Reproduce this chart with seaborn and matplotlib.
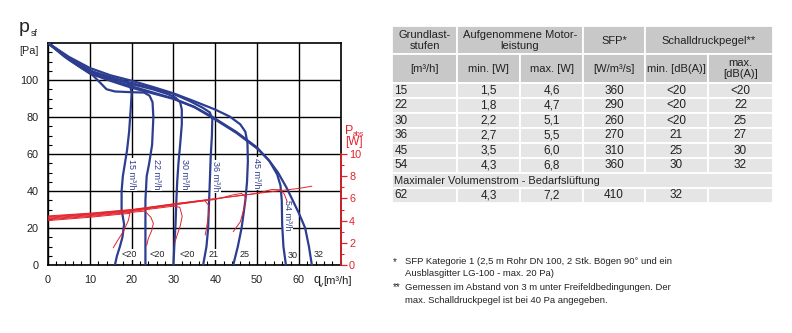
import numpy as np
import pandas as pd
import matplotlib
matplotlib.use('Agg')
import matplotlib.pyplot as plt
from matplotlib import font_manager
from matplotlib.patches import Rectangle
from matplotlib.ticker import MultipleLocator, FixedLocator
import seaborn as sns

# ---------------- data: fan curves (q [m3/h], p_sf [Pa]) ----------------
SETTINGS = ['15', '22', '30', '36', '45', '54', '62']

Q15 = [0, 4, 8, 12, 16, 18.5, 19.6, 20, 19.8, 19.4, 18.9, 18.4, 17.9, 17.6, 17.6, 18.2, 17.8, 17.2, 16.5, 16]
P15 = [120, 113, 107.5, 103, 100.5, 99.3, 97.5, 93, 85, 72, 62, 55, 48, 40, 30, 22, 15, 10, 5, 0]

Q22 = [0, 4, 8, 10.5, 12.5, 14, 16, 20, 23, 24.3, 25, 25.2, 24.9, 24.2, 23.6, 23.3, 23.3, 23.3]
P22 = [120, 112.5, 106.5, 103, 98.5, 95, 93.8, 93.4, 93.2, 91.5, 88, 80, 65, 55, 48, 35, 18, 0]

Q30 = [0, 5, 10, 15, 20, 25, 28.5, 30.5, 31.6, 32, 32, 31.6, 31.2, 30.9, 30.7, 30.5, 30.2, 30]
P30 = [120, 111.5, 105, 101, 97.8, 95, 92.5, 90.5, 88, 84, 76, 65, 55, 45, 35, 22, 10, 0]

Q36 = [0, 5, 10, 15, 20, 25, 30, 34, 37, 38.7, 39.3, 39.2, 38.9, 38.7, 38.5, 38.3, 37.9, 37.1]
P36 = [120, 112, 105, 101.5, 98.3, 95.5, 92.5, 88.5, 85, 82.5, 79, 70, 58, 45, 33, 20, 10, 0]

Q45 = [0, 5, 10, 15, 20, 25, 30, 35, 40, 43.5, 46, 47.2, 47.7, 47.8, 47.6, 47.2, 46.3, 45.4, 44.3]
P45 = [120, 112.5, 106.5, 102.5, 99.6, 96.3, 92.8, 88.5, 84, 80.2, 76, 72, 66, 56, 45, 35, 20, 10, 0]

Q54 = [0, 5, 10, 15, 20, 25, 30, 35, 39, 45, 50, 53, 54.8, 55.6, 55.9, 56, 56.3, 56.9]
P54 = [120, 111.5, 104, 100, 96.6, 93.3, 90, 85.5, 80.5, 72, 63.5, 56, 49, 43, 35, 22, 10, 0]

Q62 = [0, 5, 10, 15, 20, 25, 30, 35, 39, 45, 50, 52.7, 55, 57, 58.3, 60, 61.5, 62.4, 63.1]
P62 = [120, 111, 103.5, 99.5, 95.8, 92.8, 89.8, 85.3, 80, 71.5, 63, 57, 50, 42, 36, 28, 20, 10, 0]

# ---------------- data: absorbed power curves (q [m3/h], P_abs [W]) ----------------
RQ15 = [0, 10, 18, 19.6, 19.2, 18, 16.8, 15.6]
RW15 = [4.0, 4.3, 4.6, 4.65, 4.0, 3.0, 2.3, 1.55]
RQ22 = [0, 10, 20, 23.2, 24.6, 25.2, 24.8, 24, 23.6]
RW22 = [4.08, 4.38, 4.75, 4.85, 4.3, 3.75, 3.1, 2.4, 1.75]
RQ30 = [0, 10, 20, 30, 31.5, 32.1, 31.6, 30.8, 30.4]
RW30 = [4.15, 4.45, 4.82, 5.3, 5.2, 4.4, 3.5, 2.6, 2.1]
RQ36 = [0, 10, 20, 30, 37.5, 38.6, 38.3, 37.9, 37.6]
RW36 = [4.22, 4.52, 4.88, 5.4, 5.8, 5.3, 4.3, 3.3, 2.7]
RQ45 = [0, 10, 20, 30, 40, 44, 46.3, 47.3, 47.1, 46, 44.3]
RW45 = [4.3, 4.57, 4.92, 5.45, 5.9, 6.3, 6.45, 6.1, 5.4, 3.9, 3.0]
RQ54 = [0, 10, 20, 30, 40, 50, 53.5, 55.5, 56.5, 57.2]
RW54 = [4.36, 4.62, 4.96, 5.5, 5.97, 6.45, 6.8, 6.78, 6.4, 5.7]
RQ62 = [0, 10, 20, 30, 40, 50, 60, 63.1]
RW62 = [4.42, 4.67, 5.0, 5.5, 5.97, 6.45, 6.9, 7.1]

# curve labels and sound levels
CURVE_LABELS = ['15 m³/h', '22 m³/h', '30 m³/h', '36 m³/h', '45 m³/h', '54 m³/h']
CURVE_LABEL_Q = [19.9, 26.0, 32.6, 40.1, 49.9, 57.3]
CURVE_LABEL_P = [49, 49, 49, 47.7, 49.5, 27]
SOUND_LABELS = ['<20', '<20', '<20', '21', '25', '30', '32']
SOUND_Q = [19.3, 26.0, 33.2, 39.5, 47.0, 58.4, 64.8]
SOUND_P = [5.5, 5.5, 5.5, 5.5, 5.5, 5.0, 5.5]

XTICKS = [0, 10, 20, 30, 40, 50, 60]
YTICKS = [0, 20, 40, 60, 80, 100]
WTICKS = [0, 2, 4, 6, 8, 10]

# ---------------- data: table ----------------
COL_STUFEN = ['15', '22', '30', '36', '45', '54']
COL_MIN_W = ['1,5', '1,8', '2,2', '2,7', '3,5', '4,3']
COL_MAX_W = ['4,6', '4,7', '5,1', '5,5', '6,0', '6,8']
COL_SFP = ['360', '290', '260', '270', '310', '360']
COL_DB_MIN = ['<20', '<20', '<20', '21', '25', '30']
COL_DB_MAX = ['<20', '22', '25', '27', '30', '32']
MAX_ROW = ['62', '4,3', '7,2', '410', '32', '']
MAX_TITLE = 'Maximaler Volumenstrom - Bedarfslüftung'
HEAD1 = ['Grundlast-\nstufen', 'Aufgenommene Motor-\nleistung', 'SFP*', 'Schalldruckpegel**']
HEAD2 = ['[m³/h]', 'min. [W]', 'max. [W]', '[W/m³/s]', 'min. [dB(A)]', 'max.\n[dB(A)]']
FOOT = [('*', 'SFP Kategorie 1 (2,5 m Rohr DN 100, 2 Stk. Bögen 90° und ein'),
        ('', 'Ausblasgitter LG-100 - max. 20 Pa)'),
        ('**', 'Gemessen im Abstand von 3 m unter Freifeldbedingungen. Der'),
        ('', 'max. Schalldruckpegel ist bei 40 Pa angegeben.')]

# ---------------- style ----------------
sns.set_style('white')
names = {f.name for f in font_manager.fontManager.ttflist}
NARROW = 'Liberation Sans Narrow' if 'Liberation Sans Narrow' in names else 'Liberation Sans'
SANS = 'Liberation Sans' if 'Liberation Sans' in names else 'DejaVu Sans'
plt.rcParams['font.family'] = [SANS, 'DejaVu Sans']
plt.rcParams['mathtext.default'] = 'regular'

BLUE = '#2d3d90'
RED = '#e3232c'
TXT = '#222222'

W, H = 792, 333
fig = plt.figure(figsize=(W / 100, H / 100), dpi=100)


def px_rect(l, t, r, b):
    return [l / W, 1 - b / H, (r - l) / W, (b - t) / H]


ax = fig.add_axes(px_rect(48, 43, 340.7, 265))

fan_q = [Q15, Q22, Q30, Q36, Q45, Q54, Q62]
fan_p = [P15, P22, P30, P36, P45, P54, P62]
rows = []
for s, qs, ps in zip(SETTINGS, fan_q, fan_p):
    for i, (q, p) in enumerate(zip(qs, ps)):
        rows.append((s, i, q, p))
fan_df = pd.DataFrame(rows, columns=['setting', 'idx', 'q', 'p'])

sns.lineplot(data=fan_df, x='q', y='p', units='setting', estimator=None, sort=False,
             color=BLUE, lw=1.6, ax=ax, legend=False, zorder=3)

ax.set_xlim(0, 70)
ax.set_ylim(0, 120)
ax.set_xticks(XTICKS)
ax.set_xticklabels([str(v) for v in XTICKS])
ax.set_yticks(YTICKS)
ax.set_yticklabels([str(v) for v in YTICKS])
ax.xaxis.set_minor_locator(MultipleLocator(2))
ax.yaxis.set_minor_locator(MultipleLocator(5))
ax.tick_params(which='major', length=0, labelsize=7.8, colors=TXT)
ax.tick_params(axis='y', which='major', pad=7)
ax.tick_params(axis='x', which='major', pad=7)
ax.tick_params(which='minor', direction='in', length=3, width=0.8, color='black',
               left=True, bottom=True)
ax.grid(True, which='major', color='black', lw=1.0)
ax.set_axisbelow(True)
for s in ax.spines.values():
    s.set_visible(True)
    s.set_color('black')
    s.set_linewidth(1.2)
ax.set_xlabel('')
ax.set_ylabel('')

for lab, q, p in zip(CURVE_LABELS, CURVE_LABEL_Q, CURVE_LABEL_P):
    ax.text(q, p, lab, rotation=270, ha='center', va='center', fontsize=6.5, color=BLUE,
            bbox=dict(fc='white', ec='none', pad=0.8), zorder=1.5)
for lab, q, p in zip(SOUND_LABELS, SOUND_Q, SOUND_P):
    ax.text(q, p, lab, ha='center', va='center', fontsize=6.5, color=TXT,
            bbox=dict(fc='white', ec='none', pad=0.8), zorder=1.5)

# power axis
ax2 = ax.twinx()
pow_q = [RQ15, RQ22, RQ30, RQ36, RQ45, RQ54, RQ62]
pow_w = [RW15, RW22, RW30, RW36, RW45, RW54, RW62]
rows = []
for s, qs, ws in zip(SETTINGS, pow_q, pow_w):
    for i, (q, w) in enumerate(zip(qs, ws)):
        rows.append((s, i, q, w))
pow_df = pd.DataFrame(rows, columns=['setting', 'idx', 'q', 'w'])
sns.lineplot(data=pow_df, x='q', y='w', units='setting', estimator=None, sort=False,
             color=RED, lw=0.7, ax=ax2, legend=False)
ax2.set_xlim(0, 70)
ax2.set_ylim(0, 20)
ax2.set_yticks(WTICKS)
ax2.set_yticklabels([str(v) for v in WTICKS])
ax2.yaxis.set_minor_locator(FixedLocator([1, 3, 5, 7, 9]))
ax2.tick_params(axis='y', which='major', direction='out', length=4, width=0.9,
                colors=RED, labelsize=7.8, pad=2)
ax2.tick_params(axis='y', which='minor', direction='out', length=2.5, width=0.8, colors=RED)
ax2.grid(False)
for k in ['top', 'left', 'bottom']:
    ax2.spines[k].set_visible(False)
ax2.spines['right'].set_visible(True)
ax2.spines['right'].set_color(RED)
ax2.spines['right'].set_linewidth(1.2)
ax2.spines['right'].set_bounds(0, 10)
ax2.set_ylabel('')
ax2.set_xlabel('')

# ---------------- overlay in pixel coords ----------------
ov = fig.add_axes([0, 0, 1, 1])
ov.set_xlim(0, W)
ov.set_ylim(H, 0)
ov.axis('off')

ov.text(19, 32, 'p', fontsize=14, color=TXT, va='baseline', ha='left')
ov.text(30.5, 35.5, 'sf', fontsize=6.5, color=TXT, va='baseline', ha='left')
ov.text(38.5, 51, '[Pa]', fontsize=7.8, color=TXT, va='center', ha='right')

ov.text(313, 283, 'q', fontsize=9, color=TXT, va='baseline', ha='left')
ov.text(318.8, 287, 'v', fontsize=6, color=TXT, va='baseline', ha='left')
ov.text(323.5, 284, '[m³/h]', fontsize=8, color=TXT, va='baseline', ha='left')

ov.text(345, 134, 'P', fontsize=9, color=RED, va='baseline', ha='left')
ov.text(352.8, 136, 'abs', fontsize=5, color=RED, va='baseline', ha='left')
ov.text(345, 145.5, '[W]', fontsize=8.5, color=RED, va='baseline', ha='left')

# table
HDR = '#c8c8c8'
ROWC = '#e5e5e5'
CX = [392, 457, 520, 583, 645, 708, 773]
FONT_T = [NARROW, 'DejaVu Sans']
FS_T = 8.0


def cell(l, t, r, b, fc):
    ov.add_patch(Rectangle((l, t), r - l, b - t, fc=fc, ec='white', lw=1.3))


def tx(x, y, s, ha='center', fs=FS_T):
    ov.text(x, y, s, ha=ha, va='center', fontsize=fs, family=FONT_T, color=TXT,
            linespacing=1.1)


# header row 1
spans1 = [(0, 1), (1, 3), (3, 4), (4, 6)]
for (a, b), lab in zip(spans1, HEAD1):
    cell(CX[a], 26, CX[b], 54, HDR)
    tx((CX[a] + CX[b]) / 2, 40.5, lab)
# header row 2
for i, lab in enumerate(HEAD2):
    cell(CX[i], 54, CX[i + 1], 83, HDR)
    tx((CX[i] + CX[i + 1]) / 2, 68.5, lab)

cols = [COL_STUFEN, COL_MIN_W, COL_MAX_W, COL_SFP, COL_DB_MIN, COL_DB_MAX]
for r in range(len(COL_STUFEN)):
    t = 83 + 15 * r
    for i in range(6):
        cell(CX[i], t, CX[i + 1], t + 15, ROWC)
        if i == 0:
            tx(CX[0] + 2.5, t + 7.5, cols[i][r], ha='left', fs=8.5)
        else:
            tx((CX[i] + CX[i + 1]) / 2, t + 7.5, cols[i][r], fs=8.5)
t = 83 + 15 * len(COL_STUFEN)
cell(CX[0], t, CX[6], t + 15, ROWC)
tx(CX[0] + 2.5, t + 7.5, MAX_TITLE, ha='left', fs=7.9)
t += 15
for i in range(6):
    cell(CX[i], t, CX[i + 1], t + 15, ROWC)
    if i == 0:
        tx(CX[0] + 2.5, t + 7.5, MAX_ROW[i], ha='left', fs=8.5)
    else:
        tx((CX[i] + CX[i + 1]) / 2, t + 7.5, MAX_ROW[i], fs=8.5)

# footnotes
FOOT_Y = [261.7, 273.5, 287, 300.5]
for (mark, line), y in zip(FOOT, FOOT_Y):
    if mark:
        ov.text(393, y, mark, ha='left', va='center', fontsize=7, family=FONT_T, color=TXT)
    ov.text(405, y, line, ha='left', va='center', fontsize=6.8, family=FONT_T, color=TXT)

fig.savefig('out.png', dpi=100)
